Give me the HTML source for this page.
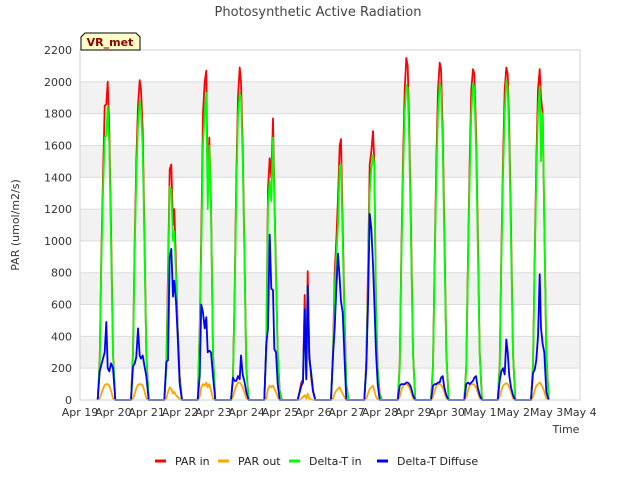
<!DOCTYPE html>
<html><head><meta charset="utf-8"><style>
body{margin:0;background:#fff;}
svg{display:block;font-family:"DejaVu Sans","Liberation Sans",sans-serif;}
</style></head><body>
<svg id="chart" width="640" height="480" viewBox="0 0 640 480">
<g id="bands"></g>
<g id="grid"></g>
<g id="series"></g>
<g id="axes"></g>
<text x="318" y="16" text-anchor="middle" font-size="13" fill="#444">Photosynthetic Active Radiation</text>
<text transform="translate(19,225) rotate(-90)" text-anchor="middle" font-size="11" fill="#333">PAR (umol/m2/s)</text>
<text x="566" y="433" text-anchor="middle" font-size="11" fill="#333">Time</text>
<g>
<path d="M81,50 L81,37 L85,33 L136,33 L140,37 L140,50 Z" fill="#ffffc8" stroke="#000" stroke-width="1"/>
<text x="110" y="46" text-anchor="middle" font-size="11" font-weight="bold" fill="#8b0000">VR_met</text>
</g>
<g id="legend"></g>
</svg>
<script>
const dayLabels=["Apr 19","Apr 20","Apr 21","Apr 22","Apr 23","Apr 24","Apr 25","Apr 26","Apr 27","Apr 28","Apr 29","Apr 30","May 1","May 2","May 3","May 4"];
const yTicks=[0,200,400,600,800,1000,1200,1400,1600,1800,2000,2200];
const dayOffsets=[0.53,0.59,0.64,0.69,0.74,0.79,0.83,0.88,0.93,0.99,1.06];
const parIn=[
[0,250,900,1400,1850,1860,2000,1700,1100,300,0],
[0,300,1000,1500,1850,2010,1950,1700,1100,300,0],
[0,200,800,1450,1480,1100,1200,850,460,150,0],
[0,450,1050,1800,2000,2070,1300,1650,1230,300,0],
[0,150,700,1400,1900,2090,2000,1600,1000,200,0],
[0,350,1330,1520,1400,1770,1320,800,300,60,0],
[0,60,110,130,660,150,810,300,150,50,0],
[0,300,800,1000,1270,1600,1640,1100,600,100,0],
[0,250,800,1480,1560,1690,1500,600,200,40,0],
[0,220,900,1500,1950,2150,2100,1700,1100,300,0],
[0,220,900,1500,1950,2120,2080,1700,1100,300,0],
[0,220,900,1500,1950,2080,2050,1700,1100,300,0],
[0,220,900,1500,1950,2090,2050,1700,1100,300,0],
[0,220,900,1500,1950,2080,1900,1800,1120,300,0]];
const parOut=[
[0,10,40,70,95,100,100,90,60,10,0],
[0,10,40,75,95,100,100,90,60,10,0],
[0,10,50,80,70,40,50,30,20,5,0],
[0,20,80,100,90,110,80,100,60,10,0],
[0,20,60,90,110,110,100,80,50,10,0],
[0,10,70,90,80,90,70,50,20,0,0],
[0,0,10,20,30,10,40,10,5,0,0],
[0,10,40,60,70,80,60,40,20,0,0],
[0,10,40,70,80,90,60,20,5,0,0],
[0,20,60,90,100,100,95,80,50,10,0],
[0,20,60,90,100,100,95,80,50,10,0],
[0,20,60,90,100,100,95,80,50,10,0],
[0,20,60,90,100,105,100,80,50,10,0],
[0,20,60,90,100,110,100,80,50,10,0]];
const deltaIn=[
[0,230,850,1300,1650,1660,1850,1600,1000,280,0],
[0,280,930,1400,1720,1880,1820,1580,1020,280,0],
[0,190,700,1340,1320,1000,1060,780,420,120,0],
[0,430,950,1600,1800,1930,1200,1600,1200,290,0],
[0,140,650,1300,1780,1930,1900,1500,950,180,0],
[0,320,1230,1380,1250,1650,1260,750,280,50,0],
[0,50,90,110,570,130,720,260,180,60,0],
[0,280,700,900,1100,1470,1480,1000,550,90,0],
[0,230,700,1300,1450,1540,1480,550,180,30,0],
[0,200,850,1400,1800,1980,1960,1600,1000,280,0],
[0,200,850,1400,1800,1990,1960,1600,1000,280,0],
[0,200,850,1400,1800,1990,1960,1600,1000,280,0],
[0,200,850,1400,1800,2010,1960,1600,1000,280,0],
[0,200,850,1400,1800,1970,1500,1800,1120,280,0]];
const diffuse=[
[0,180,220,260,300,490,200,180,230,200,0],
[0,210,230,270,450,280,260,280,220,150,0],
[0,240,250,900,950,650,750,620,400,100,0],
[0,150,600,550,450,520,300,310,300,150,0],
[0,140,120,120,150,130,280,160,120,50,0],
[0,350,450,1040,700,690,320,300,100,0,0],
[0,50,90,110,570,130,720,260,180,60,0],
[0,280,450,700,920,760,620,550,300,0,0],
[0,200,600,1170,1080,850,620,300,100,0,0],
[0,90,100,100,100,110,110,100,80,30,0],
[0,90,100,100,110,110,140,150,80,30,0],
[0,100,110,100,110,120,140,150,80,30,0],
[0,120,180,200,160,380,300,150,80,30,0],
[0,170,190,250,400,790,450,350,300,50,0]];
const seriesNames=["PAR in","PAR out","Delta-T in","Delta-T Diffuse"];
const seriesColors=["#ff0000","#ffa500","#00ff00","#0000ff"];

const X0=80,X1=580,Y0=400,Y1=50;
const xScale=d=>X0+(d/15)*(X1-X0);
const yScale=v=>Y0-(v/2200)*(Y0-Y1);
const NS="http://www.w3.org/2000/svg";
function mk(tag,attrs,parent){const e=document.createElementNS(NS,tag);for(const k in attrs)e.setAttribute(k,attrs[k]);parent.appendChild(e);return e;}
const bands=document.getElementById('bands'),grid=document.getElementById('grid'),axes=document.getElementById('axes'),series=document.getElementById('series'),legend=document.getElementById('legend');
for(let i=0;i<yTicks.length-1;i++){
 if(i%2===1){const r=mk('rect',{x:X0,y:yScale(yTicks[i+1]),width:X1-X0,height:yScale(yTicks[i])-yScale(yTicks[i+1]),fill:'#f2f2f2'},bands);
 
 }
}
yTicks.forEach(v=>{
 const l=mk('line',{x1:X0,x2:X1,y1:yScale(v),y2:yScale(v),stroke:'#dcdcdc','stroke-width':1},grid);
 
 
 const t=mk('text',{x:X0-8,y:yScale(v)+4,'text-anchor':'end','font-size':11,fill:'#333'},axes);
 t.textContent=v;
 
 
});
const frame=mk('rect',{x:X0,y:Y1,width:X1-X0,height:Y0-Y1,fill:'none',stroke:'#d0d0d0'},axes);


dayLabels.forEach((s,i)=>{
 const t=mk('text',{x:xScale(i),y:416,'text-anchor':'middle','font-size':11,fill:'#333'},axes);
 t.textContent=s;
 
 
});
[parIn,parOut,deltaIn,diffuse].forEach((data,si)=>{
 let pts=[];
 data.forEach((day,d)=>{day.forEach((v,k)=>{pts.push(xScale(d+dayOffsets[k]).toFixed(1)+','+yScale(v).toFixed(1));});});
 const p=mk('polyline',{points:pts.join(' '),fill:'none',stroke:seriesColors[si],'stroke-width':1.8,'stroke-linejoin':'round'},series);
 
 
});
const legX=[155,218,289,377];
seriesNames.forEach((n,i)=>{
 const g=mk('g',{},legend);
 
 
 mk('line',{x1:legX[i],x2:legX[i]+11,y1:461,y2:461,stroke:seriesColors[i],'stroke-width':3},g);
 const t=mk('text',{x:legX[i]+20,y:465,'font-size':11,fill:'#222'},g);
 t.textContent=n;
});
</script>
</body></html>
